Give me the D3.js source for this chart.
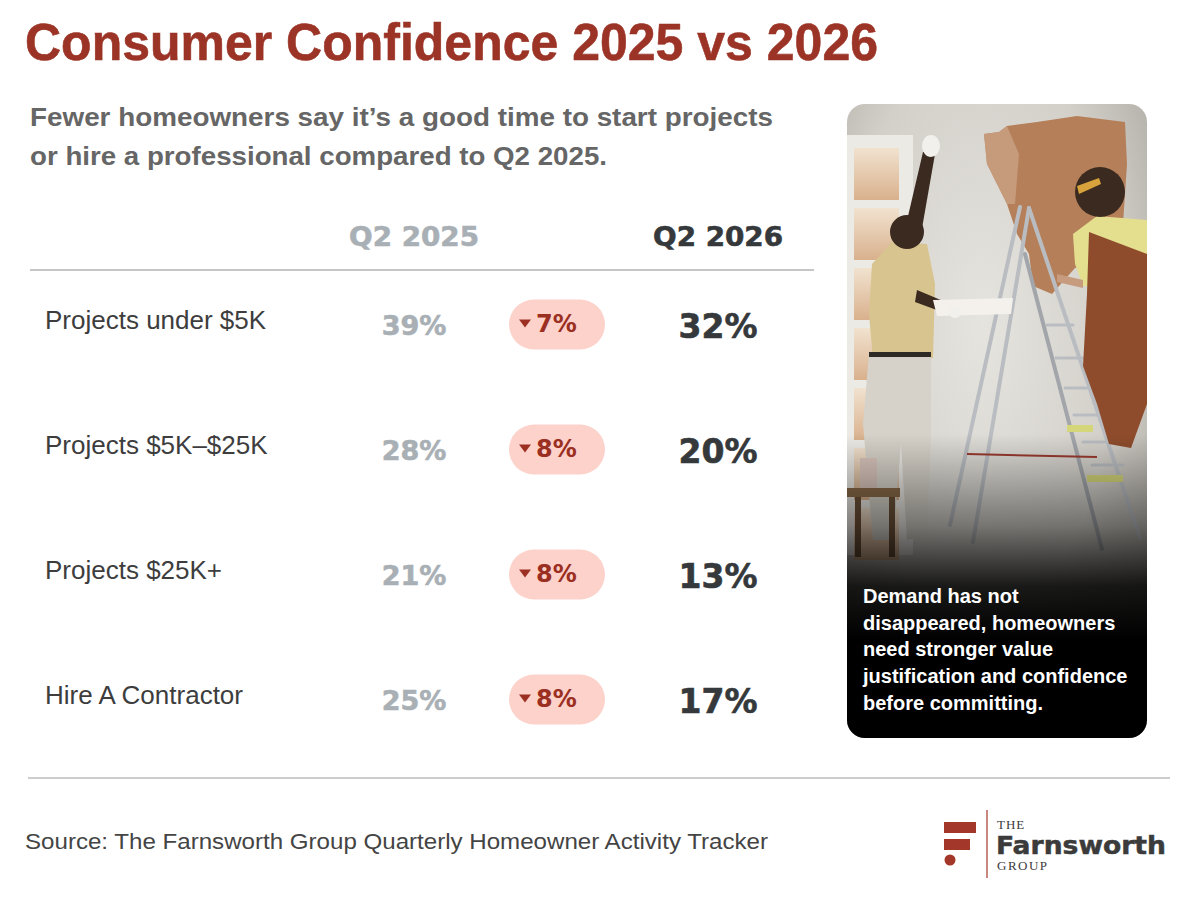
<!DOCTYPE html>
<html>
    <head>
        <meta lang="en-us" charset="utf-8">
        <style>
            body { margin: 0; background: #ffffff; }
            svg { display: block; }
        </style>
    </head>
    <body>
        <div id="d3render"></div>
    </body>
    <script src="https://d3js.org/d3.v7.min.js"></script>
    <script>
        // values
        const categories = ['Projects under $5K', 'Projects $5K\u2013$25K', 'Projects $25K+', 'Hire A Contractor'];
        const values2025 = [39, 28, 21, 25];
        const values2026 = [32, 20, 13, 17];
        const changes = [7, 8, 8, 8];
        const columnLabels = ['Q2 2025', 'Q2 2026'];
        const noteLines = ['Demand has not', 'disappeared, homeowners', 'need stronger value', 'justification and confidence', 'before committing.'];

        const width = 1200;
        const height = 900;
        const sans = '"Liberation Sans", Arial, Helvetica, sans-serif';
        const heavy = '"DejaVu Sans", Verdana, sans-serif';
        const serif = '"Liberation Serif", "DejaVu Serif", serif';
        const red = '#9b3426';

        const svg = d3.select('#d3render')
            .append('svg')
            .attr('width', width)
            .attr('height', height)
            .attr('viewBox', [0, 0, width, height])
            .style('background-color', 'white');

        // stretch a text to a given width
        function fit(sel, w) {
            sel.attr('textLength', w).attr('lengthAdjust', 'spacingAndGlyphs');
            return sel;
        }

        // title + subtitle
        fit(svg.append('text')
            .attr('x', 25).attr('y', 60)
            .attr('font-family', sans).attr('font-weight', 'bold')
            .attr('font-size', 52).attr('fill', red)
            .attr('stroke', red).attr('stroke-width', 0.6)
            .text('Consumer Confidence 2025 vs 2026'), 853);

        const subtitle = ['Fewer homeowners say it\u2019s a good time to start projects', 'or hire a professional compared to Q2 2025.'];
        const subWidths = [743, 577];
        svg.append('g').selectAll('text')
            .data(subtitle)
            .join('text')
            .attr('x', 30)
            .attr('y', (d, i) => 126 + i * 39)
            .attr('font-family', sans).attr('font-weight', 'bold')
            .attr('font-size', 26).attr('fill', '#666666')
            .attr('textLength', (d, i) => subWidths[i])
            .attr('lengthAdjust', 'spacingAndGlyphs')
            .text(d => d);

        // table scales
        const y = d3.scaleBand()
            .domain(categories)
            .range([262, 762]);

        const x = d3.scaleOrdinal()
            .domain(['label', 'q2025', 'change', 'q2026'])
            .range([45, 414, 557, 718]);

        const rowMid = d => y(d) + y.bandwidth() / 2;

        // header
        svg.append('g').selectAll('text')
            .data(columnLabels)
            .join('text')
            .attr('x', (d, i) => x(i === 0 ? 'q2025' : 'q2026'))
            .attr('y', 246)
            .attr('text-anchor', 'middle')
            .attr('font-family', heavy).attr('font-weight', 'bold')
            .attr('font-size', 26)
            .attr('fill', (d, i) => i === 0 ? '#a9b0b5' : '#35393b')
            .attr('stroke', (d, i) => i === 0 ? '#a9b0b5' : '#35393b')
            .attr('stroke-width', 0.6)
            .attr('textLength', 130)
            .attr('lengthAdjust', 'spacingAndGlyphs')
            .text(d => d);

        svg.append('line')
            .attr('x1', 30).attr('x2', 814)
            .attr('y1', 270).attr('y2', 270)
            .attr('stroke', '#b3b3b3').attr('stroke-width', 1.5);

        const rows = svg.append('g').selectAll('g')
            .data(categories)
            .join('g');

        rows.append('text')
            .attr('x', x('label'))
            .attr('y', d => rowMid(d) + 4)
            .attr('font-family', sans)
            .attr('font-size', 26)
            .attr('fill', '#3d3d3d')
            .text(d => d);

        rows.append('text')
            .attr('x', x('q2025'))
            .attr('y', d => rowMid(d) + 10)
            .attr('text-anchor', 'middle')
            .attr('font-family', heavy).attr('font-weight', 'bold')
            .attr('font-size', 27)
            .attr('fill', '#a9b0b5')
            .attr('stroke', '#a9b0b5').attr('stroke-width', 0.6)
            .text((d, i) => values2025[i] + '%');

        rows.append('rect')
            .attr('x', x('change') - 48)
            .attr('y', d => rowMid(d) - 25)
            .attr('width', 96)
            .attr('height', 50)
            .attr('rx', 25)
            .attr('fill', '#fcd2cb');

        rows.append('path')
            .attr('d', 'M-6,-4 L6,-4 L0,4 Z')
            .attr('transform', d => `translate(${x('change') - 32},${rowMid(d) - 1})`)
            .attr('fill', '#9b2f22');

        rows.append('text')
            .attr('x', x('change') - 21)
            .attr('y', d => rowMid(d) + 7)
            .attr('font-family', heavy).attr('font-weight', 'bold')
            .attr('font-size', 24)
            .attr('fill', '#9b2f22')
            .text((d, i) => changes[i] + '%');

        rows.append('text')
            .attr('x', x('q2026'))
            .attr('y', d => rowMid(d) + 13)
            .attr('text-anchor', 'middle')
            .attr('font-family', heavy).attr('font-weight', 'bold')
            .attr('font-size', 33)
            .attr('fill', '#35393b')
            .attr('stroke', '#35393b').attr('stroke-width', 0.6)
            .text((d, i) => values2026[i] + '%');

        // photo card (stylised stand-in for the photograph)
        const card = { x: 847, y: 104, w: 300, h: 634 };
        const defs = svg.append('defs');
        defs.append('clipPath').attr('id', 'cardclip')
            .append('rect')
            .attr('x', 0).attr('y', 0)
            .attr('width', card.w).attr('height', card.h)
            .attr('rx', 18);

        const wallGrad = defs.append('radialGradient').attr('id', 'wall')
            .attr('cx', 0.45).attr('cy', 0.35).attr('r', 0.75);
        wallGrad.append('stop').attr('offset', '0%').attr('stop-color', '#e6e4df');
        wallGrad.append('stop').attr('offset', '60%').attr('stop-color', '#d3d0ca');
        wallGrad.append('stop').attr('offset', '100%').attr('stop-color', '#a8a49d');

        const paneGrad = defs.append('linearGradient').attr('id', 'pane')
            .attr('x1', 0).attr('y1', 0).attr('x2', 0).attr('y2', 1);
        paneGrad.append('stop').attr('offset', '0%').attr('stop-color', '#f1e2cf');
        paneGrad.append('stop').attr('offset', '100%').attr('stop-color', '#d9b18d');

        const shade = defs.append('linearGradient').attr('id', 'shade')
            .attr('x1', 0).attr('y1', 0).attr('x2', 0).attr('y2', 1);
        shade.append('stop').attr('offset', '0%').attr('stop-color', '#000').attr('stop-opacity', 0);
        shade.append('stop').attr('offset', '30%').attr('stop-color', '#000').attr('stop-opacity', 0.45);
        shade.append('stop').attr('offset', '50%').attr('stop-color', '#000').attr('stop-opacity', 0.88);
        shade.append('stop').attr('offset', '68%').attr('stop-color', '#000').attr('stop-opacity', 1);
        shade.append('stop').attr('offset', '100%').attr('stop-color', '#000').attr('stop-opacity', 1);

        const photo = svg.append('g')
            .attr('transform', `translate(${card.x},${card.y})`)
            .append('g')
            .attr('clip-path', 'url(#cardclip)');

        photo.append('rect')
            .attr('width', card.w).attr('height', card.h)
            .attr('fill', 'url(#wall)');

        // door with glass panes
        photo.append('rect').attr('x', 0).attr('y', 31).attr('width', 66).attr('height', 420).attr('fill', '#eceae5');
        d3.range(7).forEach(i => {
            photo.append('rect')
                .attr('x', 7).attr('y', 44 + i * 60)
                .attr('width', 45).attr('height', 52)
                .attr('fill', 'url(#pane)');
        });

        // painted patch
        photo.append('path')
            .attr('d', 'M137,30 L152,28 L160,22 L190,18 L230,12 L278,18 L280,60 L276,120 L270,150 L246,160 L228,164 L205,190 L186,182 L182,150 L170,130 L160,100 L150,80 L140,60 Z')
            .attr('fill', '#b57f59');
        photo.append('path')
            .attr('d', 'M137,30 L152,28 L160,22 L172,50 L168,100 L160,100 L150,80 L140,60 Z')
            .attr('fill', '#c9a083').attr('opacity', 0.85);

        // ladder
        const ladder = photo.append('g').attr('stroke', '#b9bdc1').attr('stroke-width', 4).attr('stroke-linecap', 'round');
        ladder.append('line').attr('x1', 173).attr('y1', 103).attr('x2', 103).attr('y2', 421);
        ladder.append('line').attr('x1', 182).attr('y1', 104).attr('x2', 126).attr('y2', 438);
        ladder.append('line').attr('x1', 182).attr('y1', 104).attr('x2', 293).attr('y2', 434);
        ladder.append('line').attr('x1', 178).attr('y1', 150).attr('x2', 255).attr('y2', 445).attr('stroke', '#a2a6aa');
        [221, 254, 284, 311, 338, 361].forEach((sy, i) => {
            ladder.append('line')
                .attr('x1', 200 + i * 9).attr('y1', sy)
                .attr('x2', 226 + i * 10).attr('y2', sy)
                .attr('stroke-width', 3);
        });
        photo.append('line').attr('x1', 120).attr('y1', 350).attr('x2', 250).attr('y2', 353)
            .attr('stroke', '#9a3a2e').attr('stroke-width', 2);

        // left painter
        photo.append('path').attr('d', 'M58,125 L76,48 L88,50 L74,130 Z').attr('fill', '#3b2a20');
        photo.append('ellipse').attr('cx', 84).attr('cy', 42).attr('rx', 9).attr('ry', 11).attr('fill', '#f2f0ec');
        photo.append('path').attr('d', 'M25,160 L45,138 L80,140 L88,180 L86,254 L26,256 L22,210 Z').attr('fill', '#d8c48f');
        photo.append('circle').attr('cx', 60).attr('cy', 128).attr('r', 17).attr('fill', '#3a2a20');
        photo.append('path').attr('d', 'M70,186 L108,202 L106,212 L68,198 Z').attr('fill', '#3b2a20');
        photo.append('path').attr('d', 'M86,196 L166,194 L164,210 L90,212 Z').attr('fill', '#f4f1ec');
        photo.append('circle').attr('cx', 108).attr('cy', 208).attr('r', 6).attr('fill', '#f2f0ec');
        photo.append('path').attr('d', 'M22,250 L84,250 L84,330 L80,432 L60,436 L54,340 L46,436 L26,436 L16,320 Z').attr('fill', '#d6d2c9');
        photo.append('rect').attr('x', 22).attr('y', 248).attr('width', 62).attr('height', 5).attr('fill', '#2e2a26');

        // right painter
        photo.append('path').attr('d', 'M226,130 L250,112 L300,116 L300,182 L236,182 L228,160 Z').attr('fill', '#e4df8e');
        photo.append('path').attr('d', 'M242,128 L300,150 L300,300 L284,344 L262,340 L250,300 L236,262 L240,190 Z').attr('fill', '#8e4c2c');
        photo.append('path').attr('d', 'M210,170 L236,176 L236,184 L210,178 Z').attr('fill', '#c79b7e');
        photo.append('circle').attr('cx', 253).attr('cy', 88).attr('r', 25).attr('fill', '#3a2a20');
        photo.append('path').attr('d', 'M230,82 L252,74 L254,80 L232,90 Z').attr('fill', '#d7a23c');
        photo.append('rect').attr('x', 220).attr('y', 321).attr('width', 26).attr('height', 7).attr('fill', '#d5d67a');
        photo.append('rect').attr('x', 240).attr('y', 371).attr('width', 36).attr('height', 7).attr('fill', '#d5d67a');

        // stool and paint can
        photo.append('rect').attr('x', 0).attr('y', 384).attr('width', 53).attr('height', 9).attr('fill', '#8a6a48');
        photo.append('rect').attr('x', 8).attr('y', 393).attr('width', 6).attr('height', 60).attr('fill', '#6e5238');
        photo.append('rect').attr('x', 42).attr('y', 393).attr('width', 6).attr('height', 60).attr('fill', '#6e5238');
        photo.append('rect').attr('x', 13).attr('y', 354).attr('width', 17).attr('height', 30).attr('fill', '#d9c5bc');

        photo.append('rect')
            .attr('y', 330).attr('width', card.w).attr('height', card.h - 330)
            .attr('fill', 'url(#shade)');

        svg.append('g').selectAll('text')
            .data(noteLines)
            .join('text')
            .attr('x', 863)
            .attr('y', (d, i) => 603 + i * 26.7)
            .attr('font-family', sans).attr('font-weight', 'bold')
            .attr('font-size', 20)
            .attr('fill', '#ffffff')
            .text(d => d);

        // footer
        svg.append('line')
            .attr('x1', 28).attr('x2', 1170)
            .attr('y1', 778).attr('y2', 778)
            .attr('stroke', '#bdbdbd').attr('stroke-width', 1.5);

        fit(svg.append('text')
            .attr('x', 25).attr('y', 849)
            .attr('font-family', sans)
            .attr('font-size', 22).attr('fill', '#444444')
            .text('Source: The Farnsworth Group Quarterly Homeowner Activity Tracker'), 743);

        // logo
        const logo = svg.append('g');
        logo.append('rect').attr('x', 944).attr('y', 822).attr('width', 32).attr('height', 11).attr('fill', '#a3372a');
        logo.append('rect').attr('x', 944).attr('y', 839).attr('width', 26).attr('height', 11).attr('fill', '#a3372a');
        logo.append('circle').attr('cx', 950).attr('cy', 860).attr('r', 5.5).attr('fill', '#a3372a');
        logo.append('line').attr('x1', 987).attr('x2', 987).attr('y1', 810).attr('y2', 878)
            .attr('stroke', '#a3372a').attr('stroke-width', 1.2);
        logo.append('text').attr('x', 997).attr('y', 829)
            .attr('font-family', serif).attr('font-size', 13).attr('letter-spacing', 1)
            .attr('fill', '#3b3b3b').text('THE');
        fit(logo.append('text').attr('x', 996).attr('y', 854)
            .attr('font-family', heavy).attr('font-weight', 'bold').attr('font-size', 25)
            .attr('fill', '#3b3b3b').attr('stroke', '#3b3b3b').attr('stroke-width', 0.5)
            .text('Farnsworth'), 170);
        logo.append('text').attr('x', 997).attr('y', 870)
            .attr('font-family', serif).attr('font-size', 13).attr('letter-spacing', 1.5)
            .attr('fill', '#3b3b3b').text('GROUP');
    </script>
</html>
